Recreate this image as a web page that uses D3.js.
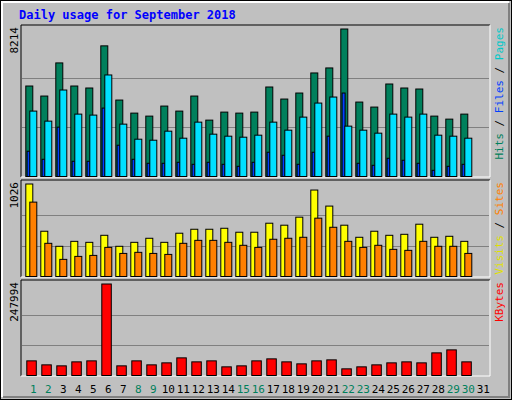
<!DOCTYPE html>
<html><head><meta charset="utf-8">
<script src="https://cdn.jsdelivr.net/npm/d3@7"></script>
<style>body{margin:0;background:#fff}text{font-family:"DejaVu Sans Mono",monospace}</style>
</head><body><svg id="c" width="512" height="400"></svg>
<script>
// daily values
let days = d3.range(1, 32);
let weekend = [1, 2, 8, 9, 15, 16, 22, 23, 29, 30];
let hits = [5039,4480,6325,5039,4928,7275,4257,3530,3363,3922,3642,4480,3139,3586,3530,3586,4984,4313,4648,5766,6045,8214,4145,3866,5151,4928,4872,3363,3195,3474];
let pagesCyan = [3642,3083,4816,3474,3419,5654,2916,2077,2021,2524,2133,3027,2357,2245,2189,2301,3027,2580,3307,4089,4425,2804,2580,2413,3474,3307,3474,2301,2245,2133];
let filesBlue = [1407,959,2748,848,848,3810,1742,959,736,736,792,680,792,680,568,792,1351,1183,680,1351,2245,4648,736,624,1015,904,736,345,568,680];
let visits = [1026,502,335,390,379,457,335,379,424,379,480,524,524,535,491,491,591,569,658,959,781,569,435,502,457,468,580,435,446,390];
let sites = [825,368,190,223,234,323,256,268,256,245,368,401,401,379,346,323,413,424,435,647,546,390,323,346,301,290,390,335,335,256];
let kbytes = [39679,28858,26152,36974,39679,247994,26152,39679,28858,34268,47795,36974,39679,23447,26152,39679,45090,36974,31563,39679,42385,18036,23447,28858,34268,36974,34268,61322,69439,36974];

let svg = d3.select('#c');
// outer frame
svg.append('rect').attr('x',0.5).attr('y',0.5).attr('width',511).attr('height',399).attr('fill','#c0c0c0').attr('stroke','#000');
svg.append('path').attr('d','M2,397V2H509').attr('fill','none').attr('stroke','#fff').attr('stroke-width',2);
svg.append('path').attr('d','M3,397H509V3').attr('fill','none').attr('stroke','#808080').attr('stroke-width',2);
svg.append('text').attr('x',19).attr('y',19).attr('fill','#0000ff').attr('font-size',12).attr('font-weight','bold').text('Daily usage for September 2018');

let x = d3.scaleLinear().domain([1, 32]).range([25.3, 25.3 + 15*31]);

function panel(y0, y1, max, series, legend, maxLabel) {
  svg.append('rect').attr('x',21).attr('y',y0).attr('width',469).attr('height',y1-y0).attr('fill','#c0c0c0');
  svg.append('path').attr('d',`M21,${y1}V${y0}H490`).attr('fill','none').attr('stroke','#000');
  svg.append('path').attr('d',`M21,${y1}H490V${y0}`).attr('fill','none').attr('stroke','#fff');
  let base = y1 - 0.5, top = y0 + 4;
  let y = d3.scaleLinear().domain([0, max]).range([base, top]);
  [1/3, 2/3].forEach(f => {
    let gy = Math.round(base - (base-top)*f) + 0.5;
    svg.append('line').attr('x1',22).attr('x2',489).attr('y1',gy).attr('y2',gy).attr('stroke','#808080');
  });
  series.forEach(s => {
    svg.append('g').selectAll('rect').data(s.values).enter().append('rect')
      .attr('x', (d, i) => x(i+1) + s.dx + 0.5)
      .attr('y', d => y(d))
      .attr('width', s.w)
      .attr('height', d => base - y(d))
      .attr('fill', s.color).attr('stroke','#000');
  });
  svg.append('text').attr('transform',`translate(18,${y0+2}) rotate(-90)`).attr('text-anchor','end')
    .attr('font-size',11).attr('fill','#000').text(maxLabel);
  let t = svg.append('text').attr('transform',`translate(503,${y0+2}) rotate(-90)`).attr('text-anchor','end').attr('font-size',11);
  legend.forEach((l, i) => {
    if (i) t.append('tspan').attr('fill','#000').text(' / ');
    t.append('tspan').attr('fill', l[1]).text(l[0]);
  });
}

panel(25, 177, 8214, [
  {values: hits, dx: 0, w: 7, color: '#00805c'},
  {values: filesBlue, dx: 1.3, w: 3, color: '#0040ff'},
  {values: pagesCyan, dx: 4, w: 7, color: '#00e0ff'}
], [['Pages','#00c8c8'],['Files','#0040ff'],['Hits','#00805c']].reverse(), '8214');

panel(180, 277, 1026, [
  {values: visits, dx: 0, w: 7, color: '#ffff00'},
  {values: sites, dx: 4, w: 7, color: '#ff8000'}
], [['Visits','#e0e000'],['Sites','#ff8000']], '1026');

panel(280, 376, 247994, [
  {values: kbytes, dx: 1, w: 9.5, color: '#ff0000'}
], [['KBytes','#ff0000']], '247994');

svg.append('g').selectAll('text').data(days).enter().append('text')
  .attr('x', d => x(d) + 8).attr('y', 393).attr('text-anchor','middle').attr('font-size',11)
  .attr('fill', d => weekend.includes(d) ? '#00805c' : '#000').text(d => d);
</script></body></html>
